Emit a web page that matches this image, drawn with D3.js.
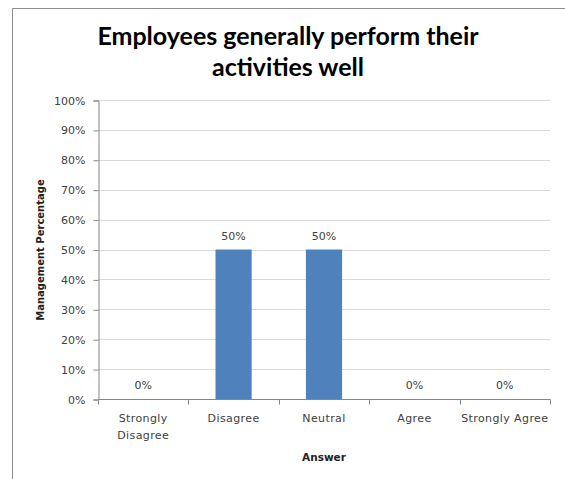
<!DOCTYPE html>
<html>
<head>
<meta charset="utf-8">
<script src="https://cdn.jsdelivr.net/npm/d3@7"></script>
<style>
  html, body { margin: 0; padding: 0; background: #fff; }
  svg { display: block; }
</style>
</head>
<body>
<div id="chart"></div>
<script>
// Survey answers and the share of management giving each one
const categories = ["Strongly Disagree", "Disagree", "Neutral", "Agree", "Strongly Agree"];
const categoryLines = [["Strongly", "Disagree"], ["Disagree"], ["Neutral"], ["Agree"], ["Strongly Agree"]];
const values = [0, 50, 50, 0, 0];
const yTicks = [0, 10, 20, 30, 40, 50, 60, 70, 80, 90, 100];
const titleLines = ["Employees generally perform their", "activities well"];

const W = 565, H = 479;
const fontFamily = "'DejaVu Sans', Verdana, sans-serif";
const titleFont = "Lato, 'Open Sans', sans-serif";

const svg = d3.select("#chart").append("svg")
  .attr("width", W).attr("height", H);

// outer chart frame
svg.append("path")
  .attr("d", `M12.5,${H} V8.5 H${W}`)
  .attr("fill", "none")
  .attr("stroke", "#8c8c8c")
  .attr("stroke-width", 1);

const xOuter = d3.scaleBand().domain(categories).range([98, 550]);
const y = d3.scaleLinear().domain([0, 100]).range([399, 100]);
const barWidth = xOuter.bandwidth() * 0.4;

// horizontal gridlines
svg.append("g").selectAll("line").data(yTicks.filter(d => d > 0)).join("line")
  .attr("x1", 98).attr("x2", 550)
  .attr("y1", d => Math.round(y(d)) + 0.5).attr("y2", d => Math.round(y(d)) + 0.5)
  .attr("stroke", "#d9d9d9");

// y axis
const yAxis = d3.axisLeft(y).tickValues(yTicks).tickFormat(d => d + "%").tickSize(5).tickPadding(8);
const gy = svg.append("g").attr("transform", "translate(98.5,0.5)").call(yAxis);
gy.select(".domain").attr("stroke", "#868686");
gy.selectAll(".tick line").attr("stroke", "#868686");
gy.selectAll(".tick text")
  .attr("font-family", fontFamily).attr("font-size", 11).attr("fill", "#404040");

// bars
svg.append("g").selectAll("rect").data(categories).join("rect")
  .attr("x", d => xOuter(d) + (xOuter.bandwidth() - barWidth) / 2)
  .attr("width", barWidth)
  .attr("y", (d, i) => y(values[i]))
  .attr("height", (d, i) => y(0) - y(values[i]))
  .attr("fill", "#4f81bd");

// x axis baseline with ticks at band boundaries
const gx = svg.append("g").attr("transform", "translate(0,399.5)");
gx.append("line").attr("x1", 98).attr("x2", 550.5).attr("stroke", "#868686");
const edges = categories.map(c => xOuter(c)).concat([550]);
gx.selectAll("line.tk").data(edges).join("line").attr("class", "tk")
  .attr("x1", d => Math.round(d) + 0.5).attr("x2", d => Math.round(d) + 0.5)
  .attr("y1", 0).attr("y2", 5)
  .attr("stroke", "#868686");

// category labels
const lab = svg.append("g").selectAll("text").data(categories).join("text")
  .attr("text-anchor", "middle")
  .attr("font-family", fontFamily).attr("font-size", 11).attr("letter-spacing", 0.4)
  .attr("fill", "#404040")
  .attr("x", d => xOuter(d) + xOuter.bandwidth() / 2)
  .attr("y", 422);
lab.each(function (d, i) {
  d3.select(this).selectAll("tspan").data(categoryLines[i]).join("tspan")
    .attr("x", xOuter(d) + xOuter.bandwidth() / 2)
    .attr("dy", (t, j) => j === 0 ? 0 : 17)
    .text(t => t);
});

// value labels
svg.append("g").selectAll("text").data(categories).join("text")
  .attr("text-anchor", "middle")
  .attr("font-family", fontFamily).attr("font-size", 11).attr("fill", "#404040")
  .attr("x", d => xOuter(d) + xOuter.bandwidth() / 2)
  .attr("y", (d, i) => y(values[i]) - 10)
  .text((d, i) => values[i] + "%");

// axis titles
svg.append("text")
  .attr("x", 324).attr("y", 461)
  .attr("text-anchor", "middle")
  .attr("font-family", fontFamily).attr("font-size", 10.5).attr("font-weight", "bold").attr("fill", "#222")
  .text("Answer");

svg.append("text")
  .attr("transform", "translate(44,250) rotate(-90)")
  .attr("text-anchor", "middle")
  .attr("font-family", fontFamily).attr("font-size", 10).attr("font-weight", "bold").attr("fill", "#222")
  .text("Management Percentage");

// chart title
svg.append("g").selectAll("text").data(titleLines).join("text")
  .attr("x", 288).attr("y", (d, i) => 45 + i * 31)
  .attr("text-anchor", "middle")
  .attr("font-family", titleFont).attr("font-size", 25).attr("font-weight", "bold").attr("fill", "#000")
  .text(d => d);
</script>
</body>
</html>
